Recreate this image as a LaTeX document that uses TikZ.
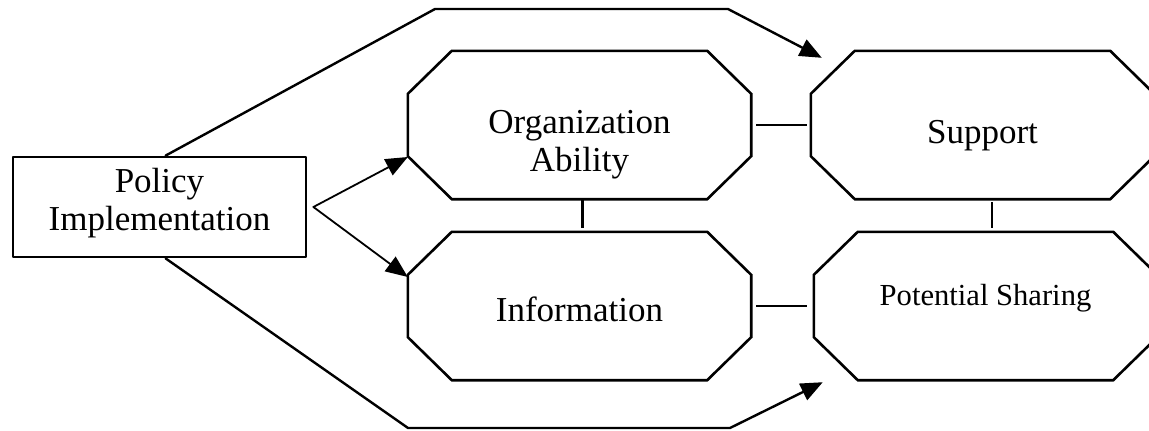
\documentclass[tikz,border=0pt]{standalone}
\usepackage{fontspec}
\setmainfont{Liberation Serif}
\usetikzlibrary{arrows.meta}
\usetikzlibrary{calc}

\tikzset{
  octa/.style={rectangle,inner sep=0pt,minimum width=343pt,minimum height=148pt},
  octline/.style={line width=2.6pt,line join=miter},
  bigbox/.style={rectangle,draw,line width=2.8pt,inner sep=0pt,
    minimum width=293pt,minimum height=100pt},
  flow/.style={line width=2.4pt,-{Triangle[length=22pt,width=18pt]}},
  arr/.style={line width=1.8pt,-{Triangle[length=22pt,width=18pt]}},
  link/.style={line width=2.4pt,line cap=butt},
}

\begin{document}
\begin{tikzpicture}[line cap=round,line join=round,x=1pt,y=-1pt,
  every node/.style={font=\fontsize{35}{37.5}\selectfont},
  every label/.style={align=center}]
\useasboundingbox (0,0) rectangle (1149,431);
% boxes
\node[bigbox,label={[yshift=4pt]center:Policy\\Implementation}] (policy) at (159.5,207) {};
\node[octa,label={[yshift=-19.5pt]center:Organization\\Ability}] (org) at (579.5,125) {};
\node[octa,label={[yshift=-3.5pt]center:Information}] (info) at (579.5,306) {};
\node[octa,label={[yshift=-11pt]center:Support}] (sup) at (982.5,125) {};
\node[octa,label={[yshift=8pt,font=\fontsize{30.6}{33}\selectfont]center:Potential Sharing}] (ps) at (985.5,306) {};
% cut corners
\foreach \n in {org,info,sup,ps}
  \draw[octline] ($(\n.north west)+(44,0)$) -- ($(\n.north east)+(-44,0)$)
    -- ($(\n.north east)+(0,43)$) -- ($(\n.south east)+(0,-43)$)
    -- ($(\n.south east)+(-44,0)$) -- ($(\n.south west)+(44,0)$)
    -- ($(\n.south west)+(0,-43)$) -- ($(\n.north west)+(0,43)$) -- cycle;
% arrows out of the policy box
\coordinate (fork) at ($(policy.east)+(6,0)$);
\coordinate (orgin) at ($(org.west)+(0,32)$);
\coordinate (infoin) at ($(info.west)+(0,-29)$);
\draw[arr] (fork) -- (orgin);
\draw[arr] (fork) -- (infoin);
% long way round, top and bottom
\coordinate (topa) at ($(policy.north west)+(154,0)$);
\coordinate (topb) at (435,9);
\coordinate (topc) at (728,9);
\coordinate (supin) at ($(sup.north west)+(11,7)$);
\draw[flow] (topa) -- (topb) -- (topc) -- (supin);
\coordinate (bota) at ($(policy.south west)+(154,0)$);
\coordinate (botb) at (408,428);
\coordinate (botc) at (730,428);
\coordinate (psin) at ($(ps.south west)+(9,2)$);
\draw[flow] (bota) -- (botb) -- (botc) -- (psin);
% plain links
\draw[link,shorten <=5pt,shorten >=4pt] (org.east) -- (sup.west);
\draw[link,shorten <=5pt,shorten >=7pt] (info.east) -- (ps.west);
\draw[link,shorten <=1pt,shorten >=4pt] ([xshift=3pt]org.south) -- ([xshift=3pt]info.north);
\coordinate (sp) at ($(sup.south)+(9.5,0)$);
\draw[link,shorten <=3pt,shorten >=4pt] (sp) -- (sp |- ps.north);
\end{tikzpicture}
\end{document}
